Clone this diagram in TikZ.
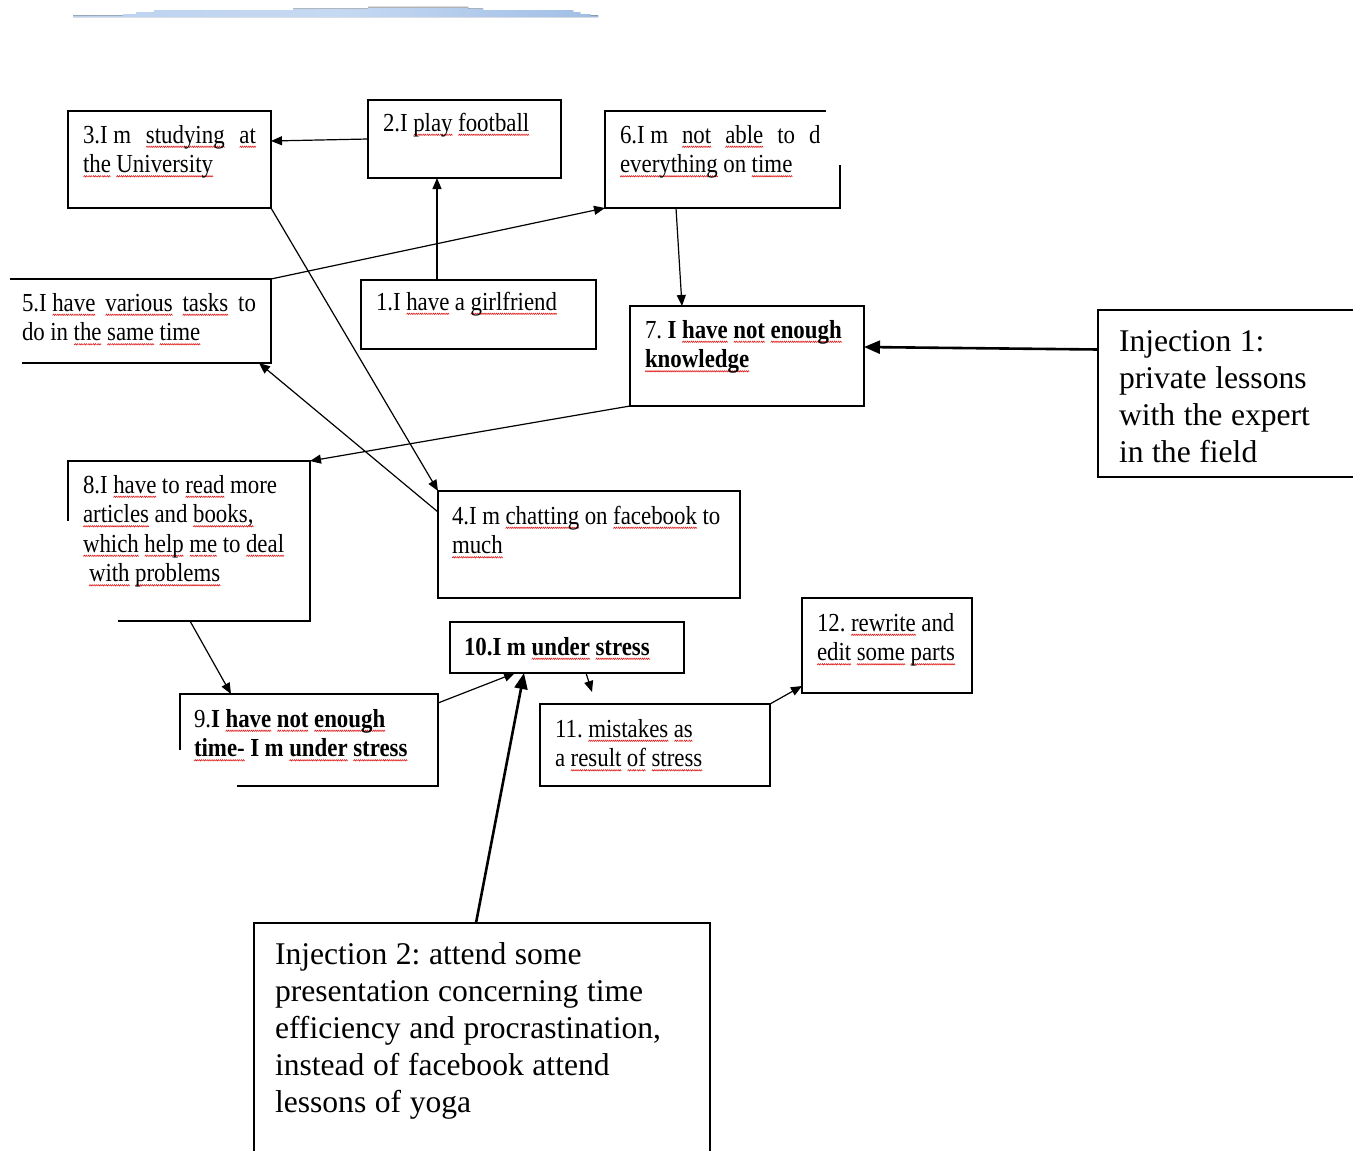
\documentclass[tikz,border=0pt]{standalone}
\usepackage{fontspec}
\setmainfont{Liberation Serif}[FakeStretch=0.88]
\newfontfamily\injfont{Liberation Serif}
\usetikzlibrary{arrows.meta}
\newsavebox\wavebox
\newsavebox\sqword
\newcommand\sq[1]{\sbox\sqword{#1}\leavevmode\rlap{\lower4.5pt\hbox to\wd\sqword{\xleaders\copy\wavebox\hfil}}\usebox\sqword}
\newcommand\boxfont{\fontsize{26}{29.5}\selectfont\frenchspacing}
\newcommand\bigfont{\injfont\fontsize{31.6}{37}\selectfont\frenchspacing}
\newcommand\sk{\spaceskip=5.5pt plus 4pt minus 1pt\xspaceskip=5.5pt plus 4pt minus 1pt\relax}
\newcommand\skb{\spaceskip=8.6pt plus 3pt minus 1pt\xspaceskip=8.6pt plus 3pt minus 1pt\relax}
\newcommand\fs{\hspace{5.5pt}}
\definecolor{barL}{HTML}{BCD2F0}
\definecolor{barM}{HTML}{C6D9F2}
\definecolor{barR}{HTML}{A0BEE6}
\definecolor{wavered}{HTML}{E02020}
\tikzset{
 box/.style={draw, line width=1.4pt, anchor=north west, inner sep=0pt, outer sep=0pt},
 frame/.style={anchor=north west, inner sep=0pt, outer sep=0pt},
 edge/.style={line width=1.4pt},
 txt/.style={anchor=base west, inner sep=0pt, outer sep=0pt, font=\boxfont},
 injtxt/.style={anchor=base west, inner sep=0pt, outer sep=0pt, font=\bigfont},
 arr/.style={line width=1.2pt, -{Triangle[length=11pt,width=9pt]}},
 bigarr/.style={line width=2.6pt, -{Triangle[length=16pt,width=13pt]}},
}
\begin{document}
\sbox\wavebox{\begin{pgfpicture}\pgfsetstrokecolor{wavered}\pgfsetlinewidth{0.6pt}\pgfpathmoveto{\pgfpoint{0pt}{0pt}}\pgfpathlineto{\pgfpoint{1pt}{1.4pt}}\pgfpathlineto{\pgfpoint{2pt}{0pt}}\pgfpathlineto{\pgfpoint{3pt}{1.4pt}}\pgfpathlineto{\pgfpoint{4pt}{0pt}}\pgfusepath{stroke}\pgfresetboundingbox\pgfpathrectangle{\pgfpointorigin}{\pgfpoint{4pt}{1.4pt}}\pgfusepath{use as bounding box}\end{pgfpicture}}%
\begin{tikzpicture}[x=1pt,y=-1pt]
\useasboundingbox[fill=white] (0,0) rectangle (1353,1151);
% header bar
\fill[left color=barL, right color=barR, middle color=barM] (73,17) -- (73,15.4) -- (123,15.4) -- (123,14) -- (136,14) -- (136,12.2) -- (154,12.2) -- (154,10) -- (293,10) -- (293,8.6) -- (368,8.6) -- (368,6.8) -- (468,6.8) -- (468,8.6) -- (483,8.6) -- (483,10) -- (573,10) -- (573,12.2) -- (580,12.2) -- (580,14) -- (590,14) -- (590,15.4) -- (598,15.4) -- (598,17) -- cycle;
\draw[gray!60, line width=0.9pt] (368,7.2) -- (468,7.2);

% boxes
\node[box, minimum width=203pt, minimum height=97pt] (b3) at (68,111) {};
\node[box, minimum width=193pt, minimum height=78pt] (b2) at (368,100) {};
\node[frame, minimum width=235pt, minimum height=97pt] (b6) at (605,111) {};
\draw[edge] ([xshift=-14pt]b6.north east) -- (b6.north west) -- (b6.south west) -- (b6.south east) -- ([yshift=43pt]b6.south east);
\node[frame, minimum width=261pt, minimum height=84pt] (b5) at (10,279) {};
\draw[edge] (b5.north west) -- (b5.north east) -- (b5.south east) -- ([xshift=12pt]b5.south west);
\node[box, minimum width=235pt, minimum height=69pt] (b1) at (361,280) {};
\node[box, minimum width=234pt, minimum height=100pt] (b7) at (630,306) {};
\node[frame, minimum width=255pt, minimum height=167pt] (in1) at (1098,310) {};
\draw[edge] (in1.north east) -- (in1.north west) -- (in1.south west) -- (in1.south east);
\node[frame, minimum width=242pt, minimum height=160pt] (b8) at (68,461) {};
\draw[edge] ([yshift=-60pt]b8.north west) -- (b8.north west) -- (b8.north east) -- (b8.south east) -- ([xshift=50pt]b8.south west);
\node[box, minimum width=302pt, minimum height=107pt] (b4) at (438,491) {};
\node[box, minimum width=234pt, minimum height=51pt] (b10) at (450,622) {};
\node[box, minimum width=170pt, minimum height=95pt] (b12) at (802,598) {};
\node[frame, minimum width=258pt, minimum height=92pt] (b9) at (180,694) {};
\draw[edge] ([yshift=-56pt]b9.north west) -- (b9.north west) -- (b9.north east) -- (b9.south east) -- ([xshift=57pt]b9.south west);
\node[box, minimum width=230pt, minimum height=82pt] (b11) at (540,704) {};
\node[frame, minimum width=456pt, minimum height=228pt] (in2) at (254,923) {};
\draw[edge] (in2.south west) -- (in2.north west) -- (in2.north east) -- (in2.south east);

% texts
\node[txt, text width=185pt] (t3) at (83,143) {\sk\makebox[173pt][s]{3.I\fs m \sq{studying} \sq{at}}\\ \sq{the} \sq{University}};
\node[txt, text width=175pt] (t2) at (383,131) {\sk 2.I \sq{play} \sq{football}};
\begin{scope}
\clip (606,112) rectangle (819,205);
\node[txt, text width=225pt] (t6) at (620,143) {\sk\makebox[212pt][s]{6.I\fs m \sq{not} \sq{able} to do}\\ \sq{everything} on \sq{time}};
\end{scope}
\node[txt, text width=245pt] (t5) at (22,311) {\sk\makebox[234pt][s]{5.I\fs\sq{have} \sq{various} \sq{tasks} to}\\ do in \sq{the} \sq{same} \sq{time}};
\node[txt, text width=215pt] (t1) at (376,310) {\sk 1.I \sq{have} a \sq{girlfriend}};
\node[txt, text width=215pt] (t7) at (645,338) {\sk 7. \textbf{I \sq{have} \sq{not} \sq{enough}}\\ \textbf{\sq{knowledge}}};
\node[injtxt, text width=230pt] (ti1) at (1119,351) {\skb Injection 1:\\ private lessons\\ with the expert\\ in the field};
\node[txt, text width=225pt] (t8) at (83,493) {\sk 8.I \sq{have} to \sq{read} more\\ \sq{articles} and \sq{books,}\\ \sq{which} \sq{help} \sq{me} to \sq{deal}\\ \hspace*{6pt}\sq{with} \sq{problems}};
\node[txt, text width=285pt] (t4) at (452,524) {\sk 4.I m \sq{chatting} on \sq{facebook} to\\ \sq{much}};
\node[txt, text width=215pt] (t10) at (464,655) {\sk\textbf{10.I m \sq{under} \sq{stress}}};
\node[txt, text width=240pt] (t9) at (194,727) {\sk 9.\textbf{I \sq{have} \sq{not} \sq{enough}}\\ \textbf{\sq{time-} I m \sq{under} \sq{stress}}};
\node[txt, text width=210pt] (t11) at (555,737) {\sk 11. \sq{mistakes} \sq{as}\\ a \sq{result} \sq{of} \sq{stress}};
\node[txt, text width=155pt] (t12) at (817,631) {\sk 12. \sq{rewrite} and\\ \sq{edit} \sq{some} \sq{parts}};
\node[injtxt, text width=430pt] (ti2) at (275,964) {\skb Injection 2: attend some\\ presentation concerning time\\ efficiency and procrastination,\\ instead of facebook attend\\ lessons of yoga};

% connectors
\draw[arr] (b2.west) -- ([yshift=-2pt]b3.east |- b2.west);
\draw[arr] ([xshift=76pt]b1.north west) -- ([xshift=76pt]b1.north west |- b2.south);
\draw[arr] (b5.north east) -- (b6.south west);
\draw[arr] ([xshift=71pt]b6.south west) -- ([xshift=52pt]b7.north west);
\draw[arr] (b3.south east) -- (b4.north west);
\draw[arr] ([yshift=-21pt]b4.north west) -- ([xshift=-12pt]b5.south east);
\draw[arr] (b7.south west) -- (b8.north east);
\draw[bigarr] ([yshift=44pt]in1.west) -- ([yshift=9pt]b7.east);
\draw[arr] ([xshift=122pt]b8.south west) -- ([xshift=51pt]b9.north west);
\draw[arr] ([yshift=-9pt]b9.north east) -- ([xshift=65pt]b10.south west);
\coordinate (c11) at (592,692);
\draw[arr] ([xshift=136pt]b10.south west) -- (c11);
\draw[arr] (b11.north east) -- ([yshift=7pt]b12.south west);
\draw[bigarr] ([xshift=222pt]in2.north west) -- ([xshift=74pt]b10.south west);
\end{tikzpicture}
\end{document}
